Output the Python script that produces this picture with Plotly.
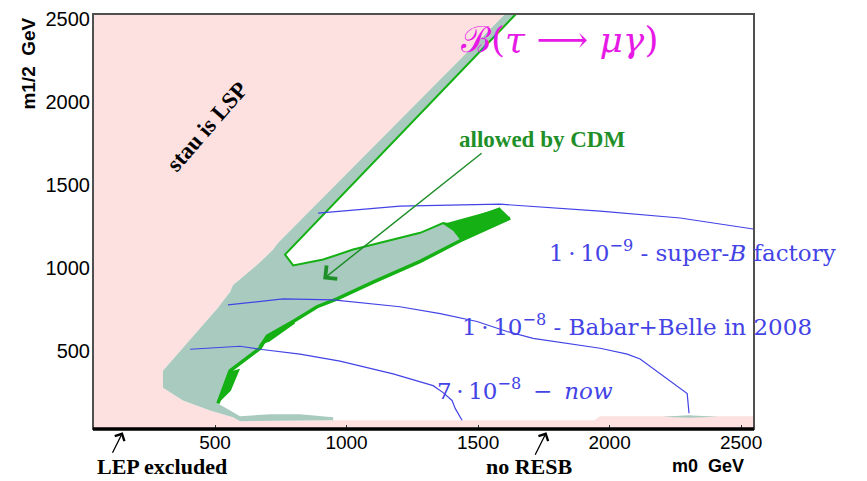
import plotly.graph_objects as go

# ---- data (m0 [GeV], m1/2 [GeV]) ----
stau_lsp_m0 = [36, 1603, 740, 721, 671, 568, 557, 508, 443, 367, 302, 302, 378, 481, 568, 595, 949, 1941, 1964, 2549, 2549, 36]
stau_lsp_m12 = [2528, 2528, 1151, 1110, 1033, 896, 855, 754, 635, 499, 380, 279, 202, 142, 101, 77, 83, 83, 107, 107, 30, 30]

band_m0 = [1603, 1644, 766, 797, 911, 1025, 1127, 1280, 1367, 1405, 1584, 1622, 1432, 1280, 1101, 964, 888, 797, 698, 671,
           557, 511, 595, 709, 823, 949, 949, 595, 568, 481, 378, 302, 302, 367, 443, 508, 557, 568, 671, 721, 740]
band_m12 = [2528, 2528, 1080, 1015, 1050, 1110, 1151, 1211, 1270, 1258, 1359, 1300, 1163, 1039, 914, 813, 766, 677, 588, 516,
            380, 184, 107, 119, 119, 101, 83, 77, 101, 142, 202, 279, 380, 499, 635, 754, 855, 896, 1033, 1110, 1151]

band_small_m0 = [2200, 2300, 2410, 2300]
band_small_m12 = [104, 113, 104, 98]

cdm_upper_m0 = [1644, 766, 797, 911, 1025, 1127, 1280, 1367, 1405, 1584]
cdm_upper_m12 = [2528, 1080, 1015, 1050, 1110, 1151, 1211, 1270, 1258, 1359]

cdm_lower_m0 = [511, 557, 671, 698, 797, 888, 964, 1101, 1280, 1432, 1622]
cdm_lower_m12 = [184, 380, 516, 588, 677, 766, 813, 914, 1039, 1163, 1300]

cdm_patch1_m0 = [511, 553, 595, 560]
cdm_patch1_m12 = [184, 374, 392, 260]
cdm_patch2_m0 = [664, 698, 797, 804, 709]
cdm_patch2_m12 = [528, 599, 688, 665, 558]
cdm_blob_m0 = [1367, 1584, 1622, 1508, 1432, 1405]
cdm_blob_m12 = [1264, 1359, 1300, 1211, 1169, 1223]

superb_m0 = [892, 1203, 1584, 1964, 2268, 2546]
superb_m12 = [1329, 1371, 1383, 1341, 1300, 1234]

babar_m0 = [549, 759, 949, 1203, 1356, 1496, 1610, 1709, 1964, 2067, 2116, 2295, 2302]
babar_m12 = [777, 813, 807, 766, 724, 677, 617, 576, 516, 481, 451, 243, 125]

now_m0 = [405, 595, 671, 823, 975, 1078, 1177, 1329, 1367, 1401, 1413, 1439]
now_m12 = [510, 528, 510, 481, 439, 398, 362, 291, 249, 202, 154, 83]

x_ticks = [500, 1000, 1500, 2000, 2500]
y_ticks = [500, 1000, 1500, 2000, 2500]

PINK = "#fde1e1"
TEAL = "#a9cbbf"
GREEN = "#14b014"
DKGREEN = "#1f8f2a"
BLUE = "#4343e6"
SERIF = "Liberation Serif, Times New Roman, serif"
MATH = "DejaVu Serif, serif"
SANS = "Liberation Sans, Arial, sans-serif"
SP = "\u2009"  # thin space for math spacing

fig = go.Figure()

def poly(x, y, color):
    fig.add_trace(go.Scatter(x=x, y=y, mode="lines", fill="toself", fillcolor=color,
                             line=dict(width=0, color=color), hoverinfo="skip", showlegend=False))

def line(x, y, color, w):
    fig.add_trace(go.Scatter(x=x, y=y, mode="lines", line=dict(color=color, width=w),
                             hoverinfo="skip", showlegend=False))

poly(stau_lsp_m0, stau_lsp_m12, PINK)
poly(band_m0, band_m12, TEAL)
poly(band_small_m0, band_small_m12, TEAL)
line(cdm_upper_m0, cdm_upper_m12, GREEN, 2)
line(cdm_lower_m0, cdm_lower_m12, GREEN, 3.5)
poly(cdm_patch1_m0, cdm_patch1_m12, GREEN)
poly(cdm_patch2_m0, cdm_patch2_m12, GREEN)
poly(cdm_blob_m0, cdm_blob_m12, GREEN)
line(superb_m0, superb_m12, BLUE, 1.2)
line(babar_m0, babar_m12, BLUE, 1.2)
line(now_m0, now_m12, BLUE, 1.2)

C = dict(xanchor="center", yanchor="middle", showarrow=False)
ann = []
# CDM arrow
ann.append(dict(x=911, y=932, ax=1519, ay=1697, xref="x", yref="y", axref="x", ayref="y",
                text="", showarrow=True, arrowhead=4, arrowsize=2.2, arrowwidth=1.5, arrowcolor=DKGREEN))
ann.append(dict(x=1743, y=1775, xref="x", yref="y", text="<b>allowed by CDM</b>",
                font=dict(family=SERIF, size=23, color=DKGREEN), **C))
ann.append(dict(x=470, y=1852, xref="x", yref="y", text="<b>stau is LSP</b>", textangle=-49,
                font=dict(family=SERIF, size=23, color="black"), **C))
ann.append(dict(x=1808, y=2375, xref="x", yref="y", text="ℬ(<i>τ</i> ⟶ <i>μγ</i>)",
                font=dict(family=MATH, size=36, color="#e619e6"), **C))
ann.append(dict(x=2314, y=1100, xref="x", yref="y",
                text=f"1{SP}·{SP}10<sup>−9</sup> - super-<i>B</i> factory",
                font=dict(family=MATH, size=23, color=BLUE), **C))
ann.append(dict(x=2105, y=655, xref="x", yref="y",
                text=f"1{SP}·{SP}10<sup>−8</sup> - Babar+Belle in 2008",
                font=dict(family=MATH, size=23, color=BLUE), **C))
ann.append(dict(x=1679, y=269, xref="x", yref="y",
                text=f"7{SP}·{SP}10<sup>−8</sup> {SP}−{SP} <i>now</i>",
                font=dict(family=MATH, size=23, color=BLUE), **C))
# outside labels
ann.append(dict(x=-0.098, y=0.881, xref="paper", yref="paper", text="<b>m1/2  GeV</b>", textangle=-90,
                font=dict(family=SANS, size=19, color="black"), **C))
ann.append(dict(x=0.930, y=-0.088, xref="paper", yref="paper", text="<b>m0\u00a0\u00a0GeV</b>",
                font=dict(family=SANS, size=18, color="black"), **C))
ann.append(dict(x=0.104, y=-0.091, xref="paper", yref="paper", text="<b>LEP excluded</b>",
                font=dict(family=SERIF, size=22, color="black"), **C))
ann.append(dict(x=0.660, y=-0.091, xref="paper", yref="paper", text="<b>no RESB</b>",
                font=dict(family=SERIF, size=22, color="black"), **C))
ann.append(dict(x=0.045, y=-0.008, xref="paper", yref="paper", ax=-11, ay=22, text="",
                showarrow=True, arrowhead=4, arrowsize=1.6, arrowwidth=1.3, arrowcolor="black"))
ann.append(dict(x=0.686, y=-0.008, xref="paper", yref="paper", ax=-12, ay=24, text="",
                showarrow=True, arrowhead=4, arrowsize=1.6, arrowwidth=1.3, arrowcolor="black"))

fig.update_layout(
    width=867, height=481,
    margin=dict(l=93, r=113, t=8, b=52),
    paper_bgcolor="white", plot_bgcolor="white",
    annotations=ann,
    shapes=[
        dict(type="rect", xref="paper", yref="paper", x0=0, y0=0, x1=1, y1=1,
             line=dict(color="#505050", width=2), layer="above"),
        dict(type="line", xref="paper", yref="paper", x0=0, y0=0, x1=1, y1=0,
             line=dict(color="black", width=3.5), layer="above"),
    ],
    xaxis=dict(range=[36, 2549], tickvals=x_ticks, ticktext=[str(v) for v in x_ticks],
               showgrid=False, zeroline=False, ticks="inside", ticklen=4, tickcolor="#333",
               ticklabelstandoff=0,
               tickfont=dict(family=SANS, size=19, color="black")),
    yaxis=dict(range=[30, 2528], tickvals=y_ticks, ticktext=[str(v) for v in y_ticks],
               showgrid=False, zeroline=False, ticks="", ticklabelstandoff=2,
               tickfont=dict(family=SANS, size=20, color="black")),
)

fig.write_html("out.html")
